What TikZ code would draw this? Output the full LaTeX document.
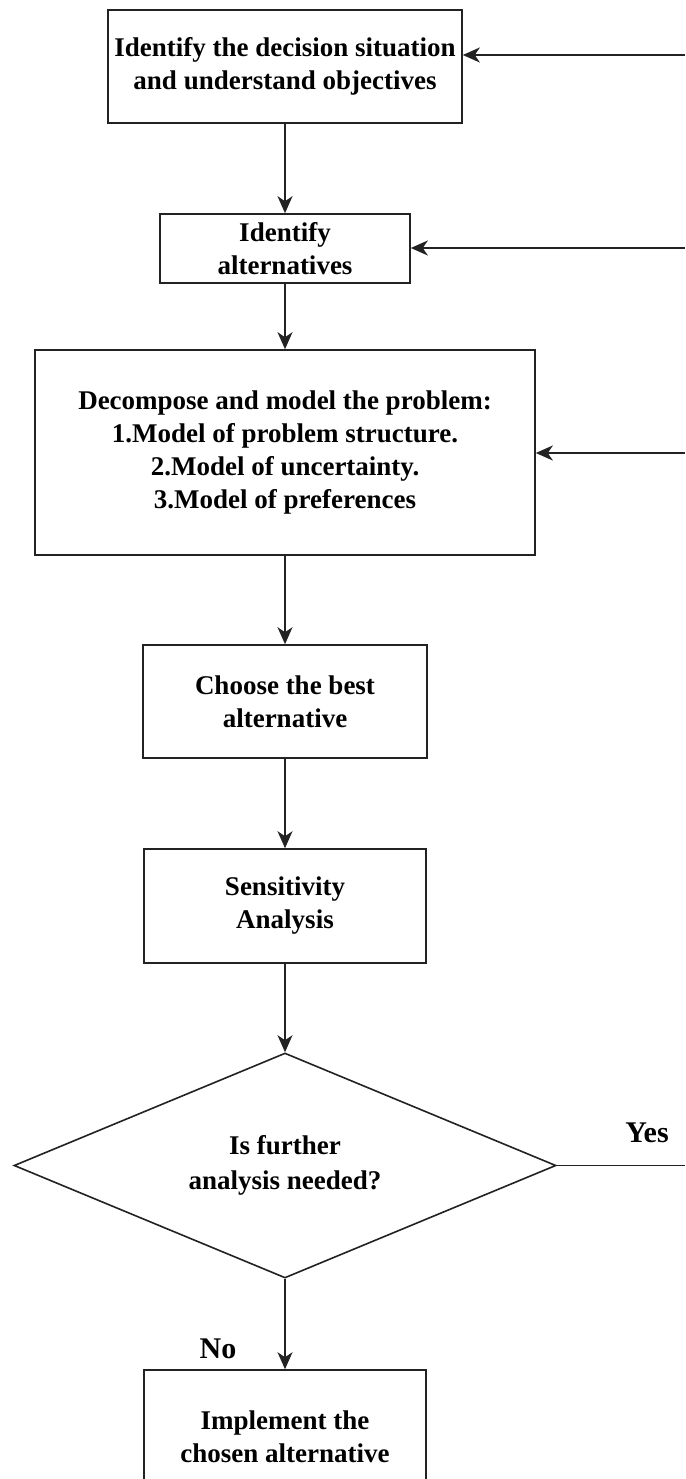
\documentclass[tikz,border=0pt]{standalone}
\usepackage{fontspec}
\setmainfont{Liberation Serif}
\usetikzlibrary{shapes.geometric,arrows.meta}
\definecolor{edge}{HTML}{222222}
\begin{document}
\begin{tikzpicture}[x=1pt,y=-1pt,
  stepbox/.style={draw=edge, line width=1.6pt, rectangle, align=center, inner sep=0pt,
    font=\fontsize{27}{33}\selectfont\bfseries},
  decbox/.style={draw=edge, line width=1.6pt, diamond, aspect=2.4, align=center, inner sep=0pt,
    font=\fontsize{27}{35}\selectfont\bfseries},
  lbl/.style={font=\fontsize{30}{36}\selectfont\bfseries, inner sep=0pt},
  arr/.style={draw=edge, line width=1.4pt, -{Stealth[length=17pt,width=15pt,inset=5pt]}},
  ln/.style={draw=edge, line width=1.4pt}]
\useasboundingbox (0,0) rectangle (685,1479);
\fill[white] (0,0) rectangle (685,1479);
\clip (0,0) rectangle (685,1479);

\node[stepbox, minimum width=354pt, minimum height=113pt] (b1) at (285,66.5)
  {Identify the decision situation\\and understand objectives};
\node[stepbox, minimum width=250pt, minimum height=69pt] (b2) at (285,248.5)
  {Identify\\alternatives};
\node[stepbox, minimum width=500pt, minimum height=205pt] (b3) at (285,452.5)
  {Decompose and model the problem:\\1.Model of problem structure.\\2.Model of uncertainty.\\3.Model of preferences};
\node[stepbox, minimum width=284pt, minimum height=113pt] (b4) at (285,701.5)
  {Choose the best\\alternative};
\node[stepbox, minimum width=282pt, minimum height=114pt] (b5) at (285,906)
  {Sensitivity\\Analysis};
\node[decbox, minimum width=542pt, minimum height=225pt] (d) at (285,1165.5)
  {Is further\\analysis needed?};
\node[stepbox, minimum width=282pt, minimum height=134pt] (b6) at (285,1437)
  {Implement the\\chosen alternative};

\node[lbl] (yes) at (647,1133) {Yes};
\node[lbl] (no) at (218,1349) {No};

\draw[arr] (b1.south) -- (b2.north);
\draw[arr] (b2.south) -- (b3.north);
\draw[arr] (b3.south) -- (b4.north);
\draw[arr] (b4.south) -- (b5.north);
\draw[arr] (b5.south) -- (d.north);
\draw[arr] (d.south) -- (b6.north);

\coordinate (f1) at (685,55);
\coordinate (f2) at (685,248);
\coordinate (f3) at (685,453);
\coordinate (f4) at (685,1165.5);
\draw[arr] (f1) -- (f1 -| b1.east);
\draw[arr] (f2) -- (f2 -| b2.east);
\draw[arr] (f3) -- (f3 -| b3.east);
\draw[ln] (d.east) -- (f4);
\end{tikzpicture}
\end{document}
